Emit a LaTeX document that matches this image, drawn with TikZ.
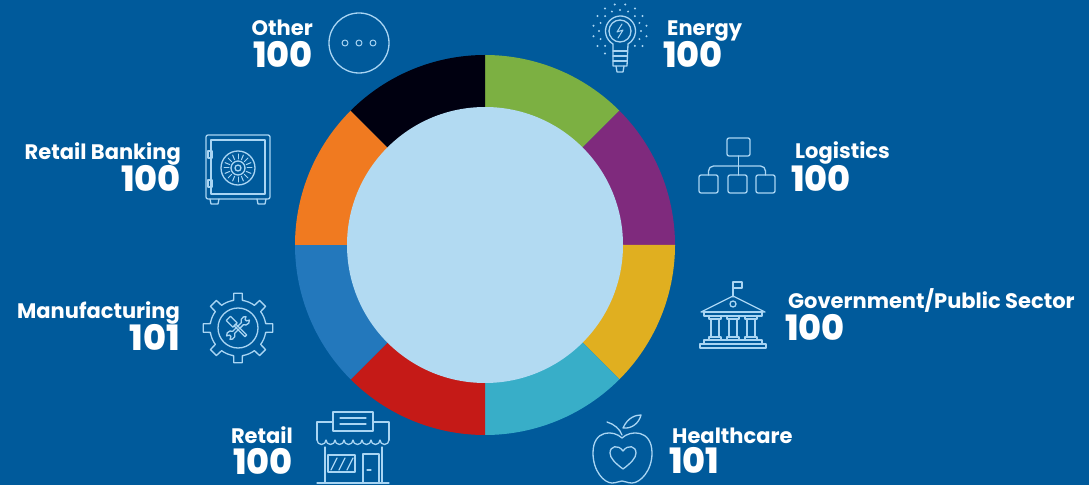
\documentclass[tikz,border=0pt]{standalone}
\usepackage{fontspec}
\setmainfont{Poppins}
\newfontfamily\numfont{Poppins}[BoldFont={* ExtraBold}]
\definecolor{bgblue}{HTML}{005A9B}
\definecolor{iconblue}{HTML}{A9D5F3}
\definecolor{holeblue}{HTML}{B2DAF2}
\definecolor{cgreen}{HTML}{7CB042}
\definecolor{cpurple}{HTML}{7F2A7D}
\definecolor{cyellow}{HTML}{E0AF20}
\definecolor{cteal}{HTML}{38AEC8}
\definecolor{cred}{HTML}{C51A17}
\definecolor{cblue}{HTML}{2378BC}
\definecolor{corange}{HTML}{F07A20}
\definecolor{cblack}{HTML}{000010}
\tikzset{
  cat/.style={font=\fontsize{21}{21}\selectfont\bfseries, text=white, inner sep=0pt},
  val/.style={font=\numfont\fontsize{35}{35}\selectfont\bfseries, text=white, inner sep=0pt},
  icon/.style={draw=iconblue, line width=1.3pt, line join=round, line cap=round},
}
\begin{document}
\begin{tikzpicture}[x=1pt,y=1pt]
\fill[bgblue] (0,0) rectangle (1089,485);

% donut
\coordinate (c) at (485,240);
\foreach \col [count=\i] in {cgreen,cpurple,cyellow,cteal,cred,cblue,corange,cblack}
  \fill[\col] (c) -- ++({90-45*\i}:190) arc[start angle={90-45*\i}, end angle={135-45*\i}, radius=190] -- cycle;
\fill[holeblue] (c) circle (138);

% labels
\node[cat, anchor=base east] (other) at (313,449) {Other};
\node[val, anchor=base east] (otherV) at (313,417) {100};
\node[cat, anchor=base west] (energy) at (667,449) {Energy};
\node[val, anchor=base west] (energyV) at (663,417) {100};
\node[cat, anchor=base west] (logistics) at (795,326) {Logistics};
\node[val, anchor=base west] (logisticsV) at (791,293) {100};
\node[cat, anchor=base west] (gov) at (788,177) {Government/Public Sector};
\node[val, anchor=base west] (govV) at (785,145) {100};
\node[cat, anchor=base west] (health) at (672,42) {Healthcare};
\node[val, anchor=base west] (healthV) at (669,12) {101};
\node[cat, anchor=base east] (retail) at (293,42) {Retail};
\node[val, anchor=base east] (retailV) at (293,11) {100};
\node[cat, anchor=base east] (manu) at (180,167) {Manufacturing};
\node[val, anchor=base east] (manuV) at (180,135) {101};
\node[cat, anchor=base east] (bank) at (181,325) {Retail Banking};
\node[val, anchor=base east] (bankV) at (181,293) {100};

% other
\draw[icon] (359,442) circle (30);
\foreach \x in {345,359,373} \draw[icon, line width=1pt] (\x,442) circle (3);

% energy
\draw[icon] (620,454) circle (11);
\draw[icon] (613,441) arc[start angle=240, end angle=-60, radius=15] -- (627,419) -- (613,419) -- cycle;
\foreach \y in {434,429,424} \draw[icon] (613,\y) -- (627,\y);
\draw[icon] (616,419) -- (617,413) -- (623,413) -- (624,419);
\draw[icon, line width=1pt] (622,461) -- (617,453) -- (623,455) -- (618,447);
\foreach \a in {-45,-22.5,...,225} {
  \fill[iconblue] (620,454) ++(\a:21) circle (1.1);
  \fill[iconblue] (620,454) ++(\a+11.25:27) circle (1.1);
}

% logistics
\draw[icon, rounded corners=2] (727,329) rectangle (750,347);
\foreach \x in {699,728,756} \draw[icon, rounded corners=2] (\x,292) rectangle (\x+19,310);
\draw[icon] (738.5,329) -- (738.5,310);
\draw[icon, rounded corners=5] (708.5,310) -- (708.5,319) -- (765.5,319) -- (765.5,310);

% government
\draw[icon] (733,188) -- (733,203) -- (742,203) -- (742,197) -- (733,197);
\draw[icon] (701,173) -- (733,189) -- (765,173) -- cycle;
\draw[icon] (733,181) circle (3);
\draw[icon] (704,173) rectangle (762,169);
\foreach \x in {715,733,751} {
  \draw[icon] (\x-6,169) rectangle (\x+6,166);
  \draw[icon] (\x-4,166) rectangle (\x+4,148);
  \draw[icon] (\x-6,148) rectangle (\x+6,145);
}
\draw[icon] (704,145) rectangle (762,141);
\draw[icon] (700,141) rectangle (766,137);

% healthcare
\draw[icon] (622,47) .. controls (614,55) and (593,56) .. (593,32)
  .. controls (593,14) and (604,2) .. (612,2) .. controls (617,2) and (619,4) .. (622,4)
  .. controls (625,4) and (627,2) .. (632,2) .. controls (640,2) and (652,14) .. (652,32)
  .. controls (652,56) and (630,55) .. (622,47);
\draw[icon] (622,50) .. controls (620,56) and (614,61) .. (607,63);
\draw[icon] (623,57) .. controls (628,68) and (636,70) .. (641,70) .. controls (639,62) and (632,56) .. (623,57);
\draw[icon] (623,16) .. controls (615,22) and (610,27) .. (610,32) .. controls (610,39) and (618,41) .. (623,34)
  .. controls (628,41) and (636,39) .. (636,32) .. controls (636,27) and (631,22) .. (623,16);

% retail
\draw[icon] (325,38) -- (325,3);
\draw[icon] (382,38) -- (382,3);
\draw[icon] (317,2) -- (389,2);
\draw[icon] (317,45) -- (317,63) -- (333,63);
\draw[icon] (373,63) -- (389,63) -- (389,45);
\draw[icon] (317,45) \foreach \i in {1,...,8} { arc[start angle=180, end angle=360, radius=4.5] };
\draw[icon] (333,54) rectangle (373,73);
\draw[icon] (340,67) -- (366,67);
\draw[icon] (340,61) -- (366,61);
\draw[icon] (328,13) rectangle (355,30);
\draw[icon] (331,15) -- (337,27);
\draw[icon] (339,15) -- (345,27);
\draw[icon] (347,15) -- (353,27);
\draw[icon] (363,2) rectangle (379,31);
\draw[icon] (367,15) -- (371,15);

% manufacturing
\draw[icon, shift={(238,157)}] (-9:28) \foreach \a in {0,45,...,315} {
  -- ({\a-7}:35) -- ({\a+7}:35) -- ({\a+9}:28) arc[start angle={\a+9}, end angle={\a+36}, radius=28] } -- cycle;
\draw[icon] (238,157) circle (20);
\begin{scope}[shift={(238,157)}, rotate=-45, scale=0.85]
  \draw[icon] (-16,-3.5) rectangle (-5,3.5);
  \draw[icon] (-5,-1.5) rectangle (13,1.5);
\end{scope}
\begin{scope}[shift={(238,157)}, rotate=45, scale=0.85]
  \draw[icon] (-7.3,1.7) -- (7.3,1.7) arc[start angle=160, end angle=35, radius=5] -- (13,1.2) -- (13,-1.2) -- (16.1,-2.9)
    arc[start angle=-35, end angle=-160, radius=5] -- (-7.3,-1.7) arc[start angle=-20, end angle=-145, radius=5]
    -- (-13,-1.2) -- (-13,1.2) -- (-16.1,2.9) arc[start angle=145, end angle=20, radius=5] -- cycle;
\end{scope}

% retail banking
\draw[icon, rounded corners=2] (206,286) rectangle (270,350);
\draw[icon] (211,291) rectangle (265,345);
\draw[icon] (210,286) -- (211,281) -- (218,281) -- (219,286);
\draw[icon] (257,286) -- (258,281) -- (265,281) -- (266,286);
\draw[icon] (208,327) rectangle (212,334);
\draw[icon] (208,298) rectangle (212,305);
\draw[icon] (238,317) circle (17);
\draw[icon] (238,317) circle (7);
\draw[icon] (238,317) circle (3);
\foreach \a in {0,22.5,...,337.5} \draw[icon, line width=1pt] (238,317) ++(\a:9) -- ++(\a:5);
\end{tikzpicture}
\end{document}
